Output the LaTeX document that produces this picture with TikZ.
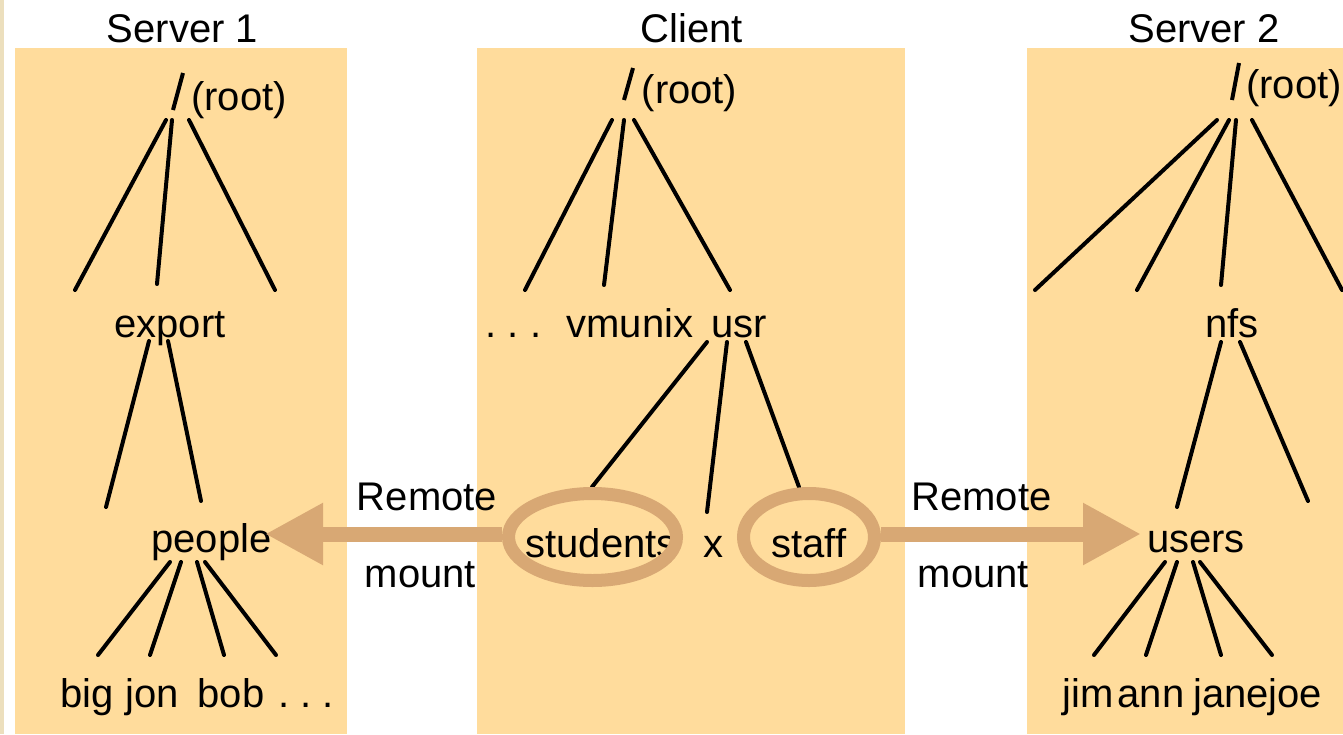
\documentclass[tikz,border=0pt]{standalone}
\usepackage{fontspec}
\setmainfont{Liberation Sans}
\usetikzlibrary{arrows.meta,shapes.geometric}
\definecolor{panelfill}{HTML}{FFDC9C}
\definecolor{mounttan}{HTML}{D8A874}
\definecolor{edgebeige}{HTML}{ECDFBD}
\begin{document}
\begin{tikzpicture}[x=1pt,y=-1pt,
  panel/.style={fill=panelfill,draw=none},
  branch/.style={line width=4pt,line cap=round},
  lbl/.style={font=\fontsize{40}{48}\selectfont,inner sep=0pt,anchor=base},
  ring/.style={ellipse,draw=mounttan,line width=13pt,inner sep=0pt},
  mountarrow/.style={draw=mounttan,line width=15pt,
    -{Triangle[length=58pt,width=58pt,fill=mounttan]}}]

% canvas
\useasboundingbox (0,0) rectangle (1343,734);
\fill[white] (0,0) rectangle (1343,734);
\fill[edgebeige] (0,0) rectangle (4,734);

% machine panels
\fill[panel] (15,48) rectangle (347,734);
\fill[panel] (477,48) rectangle (905,734);
\fill[panel] (1027,48) rectangle (1343,734);

% titles
\node[lbl] (t1) at (182.5,42) {Server 1};
\node[lbl] (tc) at (692,42) {Client};
\node[lbl] (t2) at (1204,42) {Server 2};

% root markers
\node[lbl] (root1) at (239,110) {(root)};
\node[lbl] (rootc) at (689.5,103) {(root)};
\node[lbl] (root2) at (1294,98) {(root)};
\foreach \n/\a/\b/\c/\d in {s1/183/73/173/110, sc/633/68/624/100, s2/1239/63/1232/100}{
  \coordinate (\n-slashtop) at (\a,\b);
  \coordinate (\n-slashbot) at (\c,\d);
  \draw[line width=4pt] (\n-slashtop) -- (\n-slashbot);
}

% Server 1 names
\node[lbl] (export) at (170,337) {export};
\node[lbl] (people) at (211.5,552) {people};
\node[lbl] (big) at (87,707) {big};
\node[lbl] (jon) at (152,707) {jon};
\node[lbl] (bob) at (231,707) {bob};
\node[lbl] (more1) at (306,707) {.\ .\ .};

% Client names
\node[lbl] (morec) at (513.5,337) {.\ .\ .};
\node[lbl] (vmunix) at (630,337) {vmunix};
\node[lbl] (usr) at (739,337) {usr};
\node[lbl] (students) at (601,557) {students};
\node[lbl] (xdir) at (713,557) {x};
\node[lbl] (staff) at (809,557) {staff};

% Server 2 names
\node[lbl] (nfs) at (1232,337) {nfs};
\node[lbl] (users) at (1196,552) {users};
\node[lbl] (jim) at (1088.5,707) {jim};
\node[lbl] (ann) at (1151,707) {ann};
\node[lbl] (jane) at (1231,707) {jane};
\node[lbl] (joe) at (1295.5,707) {joe};

% directory tree branches
\foreach \n/\a/\b/\c/\d in {
  a1/166/120/75/290, a2/172/120/157/284, a3/189/120/275/290,
  b1/149/341/106/507, b2/168/341/201/501,
  c1/170/562/98/655, c2/181/562/150/655, c3/197/562/224/655, c4/205/562/276/655,
  d1/612/120/525/290, d2/624/120/604/285, d3/634/120/730/290,
  e1/707/342/592/487, e2/727/342/707/512, e3/746/342/799/487,
  f1/1217/120/1035/290, f2/1229/120/1137/290, f3/1236/120/1221/285, f4/1252/120/1342/290,
  g1/1221/342/1177/507, g2/1240/342/1308/501,
  h1/1165/562/1094/655, h2/1177/562/1146/655, h3/1193/562/1221/655, h4/1200/562/1272/655}{
  \coordinate (\n-top) at (\a,\b);
  \coordinate (\n-end) at (\c,\d);
  \draw[branch] (\n-top) -- (\n-end);
}

% mount points
\node[ring,minimum width=168pt,minimum height=87pt] (ringstu) at (592.5,537) {};
\node[ring,minimum width=131pt,minimum height=87pt] (ringstaff) at (809,537) {};

% remote mount arrows
\coordinate (tip1) at (265,534);
\coordinate (tip2) at (1141,534);
\draw[mountarrow] (ringstu.west |- tip1) -- (tip1);
\draw[mountarrow] (ringstaff.east |- tip2) -- (tip2);

\node[lbl] (rem1) at (427,510) {Remote};
\node[lbl] (mnt1) at (420.5,587) {mount};
\node[lbl] (rem2) at (981.5,510) {Remote};
\node[lbl] (mnt2) at (973.5,587) {mount};
\end{tikzpicture}
\end{document}
